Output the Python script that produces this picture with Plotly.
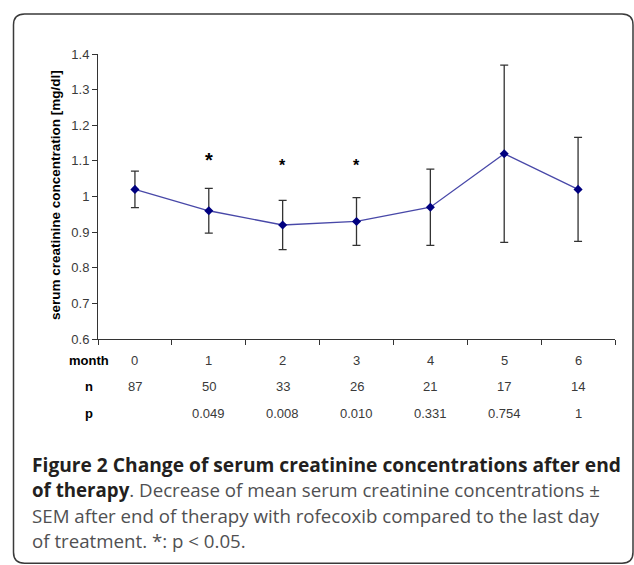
import plotly.graph_objects as go

# ---- data ----
months = [0, 1, 2, 3, 4, 5, 6]
mean_creatinine = [1.02, 0.96, 0.92, 0.93, 0.97, 1.12, 1.02]
sem = [0.051, 0.063, 0.069, 0.067, 0.107, 0.249, 0.146]
n_values = ["87", "50", "33", "26", "21", "17", "14"]
p_values = ["", "0.049", "0.008", "0.010", "0.331", "0.754", "1"]
significant = [False, True, True, True, False, False, False]
star_levels = [None, 1.103, 1.086, 1.086, None, None, None]
y_ticks = [0.6, 0.7, 0.8, 0.9, 1.0, 1.1, 1.2, 1.3, 1.4]
y_ticktext = ["0.6", "0.7", "0.8", "0.9", "1", "1.1", "1.2", "1.3", "1.4"]

W, H = 634, 565
L, R, T, B = 98, 615, 53.6, 339.3
PW, PH = R - L, B - T


def px(x):
    return (x - L) / PW


def py(y):
    return (B - y) / PH


fig = go.Figure()
fig.add_trace(go.Scatter(
    x=months, y=mean_creatinine,
    mode="lines+markers",
    line=dict(color="#4848a8", width=1.3),
    marker=dict(symbol="diamond", size=7, color="#000080"),
    error_y=dict(type="data", array=sem, visible=True,
                 color="#333333", thickness=1.3, width=4),
    showlegend=False, hoverinfo="skip",
))

tick_font = dict(family="Liberation Sans, Arial", size=13, color="#3a3a3a")
bold_font = dict(family="Liberation Sans, Arial", size=13, color="#000000")

annotations = []
# significance stars
for m, s, lvl in zip(months, significant, star_levels):
    if s:
        annotations.append(dict(x=m, y=lvl, xref="x", yref="y", text="<b>*</b>",
                                showarrow=False,
                                font=dict(family="Liberation Sans, Arial",
                                          size=20 if m == 1 else 16, color="#000")))

# table rows
rows = [("month", [str(m) for m in months], 360.5),
        ("n", n_values, 386.5),
        ("p", p_values, 414)]
for label, vals, ypx in rows:
    annotations.append(dict(x=px(88.5), y=py(ypx), xref="paper", yref="paper",
                            text="<b>%s</b>" % label, showarrow=False,
                            xanchor="center", yanchor="middle", font=bold_font))
    for m, v in zip(months, vals):
        if v:
            annotations.append(dict(x=m, y=py(ypx), xref="x", yref="paper",
                                    text=v, showarrow=False,
                                    xanchor="center", yanchor="middle", font=tick_font))

# y-axis title
annotations.append(dict(x=px(55), y=py(195), xref="paper", yref="paper",
                        text="<b>serum creatinine concentration [mg/dl]</b>",
                        textangle=-90, showarrow=False,
                        xanchor="center", yanchor="middle",
                        font=dict(family="Liberation Sans, Arial", size=13.5, color="#000")))

# caption
dark = "#231f20"
grey = "#505052"
bold_cap = dict(family="Open Sans", size=19.2, color=dark)
reg_cap = dict(family="Open Sans", size=18.7, color=dark)
caption_lines = [
    ("<b>Figure 2 Change of serum creatinine concentrations after end</b>", 465, bold_cap),
    ("<b>of therapy</b><span style='color:%s'>. Decrease of mean serum creatinine concentrations ±</span>" % grey, 490.5, reg_cap),
    ("<span style='color:%s'>SEM after end of therapy with rofecoxib compared to the last day</span>" % grey, 516, reg_cap),
    ("<span style='color:%s'>of treatment. *: p &lt; 0.05.</span>" % grey, 541.5, reg_cap),
]
for txt, ypx, f in caption_lines:
    annotations.append(dict(x=px(30), y=py(ypx), xref="paper", yref="paper",
                            text=txt, showarrow=False, xanchor="left",
                            yanchor="middle", font=f))

# rounded frame
x0, x1, y0, y1, r = 13.5, 633, 13.5, 564, 11
path = (
    f"M {px(x0)},{py(y0 + r)} Q {px(x0)},{py(y0)} {px(x0 + r)},{py(y0)} "
    f"L {px(x1 - r)},{py(y0)} Q {px(x1)},{py(y0)} {px(x1)},{py(y0 + r)} "
    f"L {px(x1)},{py(y1 - r)} Q {px(x1)},{py(y1)} {px(x1 - r)},{py(y1)} "
    f"L {px(x0 + r)},{py(y1)} Q {px(x0)},{py(y1)} {px(x0)},{py(y1 - r)} Z"
)
shapes = [dict(type="path", xref="paper", yref="paper", path=path,
               line=dict(color="#3a3a3a", width=1.5), fillcolor="rgba(0,0,0,0)")]

fig.update_layout(
    width=W, height=H,
    margin=dict(l=L, r=W - R, t=T, b=H - B, pad=0),
    paper_bgcolor="white", plot_bgcolor="white",
    xaxis=dict(range=[-0.5, 6.5], tickvals=[-0.5, 0.5, 1.5, 2.5, 3.5, 4.5, 5.5, 6.5],
               showticklabels=False, ticks="outside", ticklen=5, tickcolor="#333",
               showline=True, linecolor="#333", linewidth=1, showgrid=False,
               zeroline=False, fixedrange=True),
    yaxis=dict(range=[0.6, 1.4], tickvals=y_ticks, ticktext=y_ticktext,
               ticks="outside", ticklen=5, tickcolor="#333", tickfont=tick_font,
               showline=True, linecolor="#333", linewidth=1, showgrid=False,
               zeroline=False, fixedrange=True),
    annotations=annotations, shapes=shapes,
)

fig.write_html("out.html", config={"displayModeBar": False},
               post_script="document.body.style.margin='0';document.body.style.overflow='hidden';")
